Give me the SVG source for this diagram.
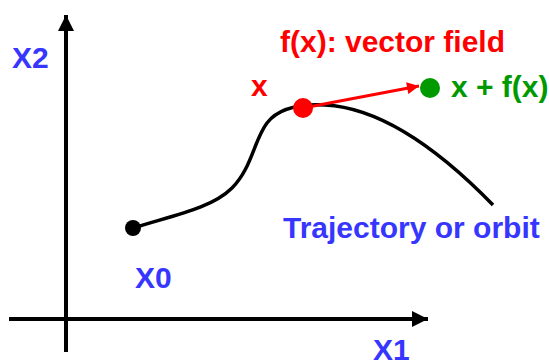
<svg xmlns="http://www.w3.org/2000/svg" width="549" height="361" viewBox="0 0 549 361">
<style>
.lbl{font-family:"Liberation Sans",Arial,sans-serif;font-weight:bold;font-size:30px}
.blue{fill:#3636ff}
.red{fill:#ff0000}
.green{fill:#009a00}
.ax{stroke:#000;stroke-width:4;fill:none}
</style>
<defs>
<marker id="ah" viewBox="0 0 10 10" refX="10" refY="5" markerWidth="4" markerHeight="4" markerUnits="strokeWidth" orient="auto"><path d="M0,0 L10,5 L0,10 z" fill="#000"/></marker>
<marker id="rh" viewBox="0 0 10 10" refX="10" refY="5" markerWidth="4.5" markerHeight="4" markerUnits="strokeWidth" orient="auto"><path d="M0,0 L10,5 L0,10 z" fill="#ff0000"/></marker>
</defs>
<g id="connectors">
<line id="x2-axis" class="ax" x1="66" y1="352" x2="66" y2="15" marker-end="url(#ah)"/>
<line id="x1-axis" class="ax" x1="9" y1="319" x2="428" y2="319" marker-end="url(#ah)"/>
<path id="trajectory" d="M133,228 C175,215 212,208 232,188 C252,168 254,140 267,123 C280,106 305,104 325,105 C365,107 420,130 493,205" fill="none" stroke="#000" stroke-width="3.5"/>
<line id="vector" x1="303" y1="108" x2="419" y2="86" stroke="#ff0000" stroke-width="3" marker-end="url(#rh)"/>
</g>
<g id="x0-node"><circle cx="133" cy="228" r="8" fill="#000"/><text class="lbl blue" x="135" y="288">X0</text></g>
<g id="x-node"><circle cx="303" cy="108" r="10" fill="#ff0000"/><text class="lbl red" x="251" y="96">x</text></g>
<g id="xfx-node"><circle cx="430" cy="88" r="10" fill="#009a00"/><text class="lbl green" x="451" y="97">x + f(x)</text></g>
<g id="labels">
<text class="lbl blue" x="12" y="68">X2</text>
<text class="lbl blue" x="373" y="360">X1</text>
<text class="lbl red" x="280" y="52">f(x): vector field</text>
<text class="lbl blue" x="283" y="238">Trajectory or orbit</text>
</g>
</svg>
